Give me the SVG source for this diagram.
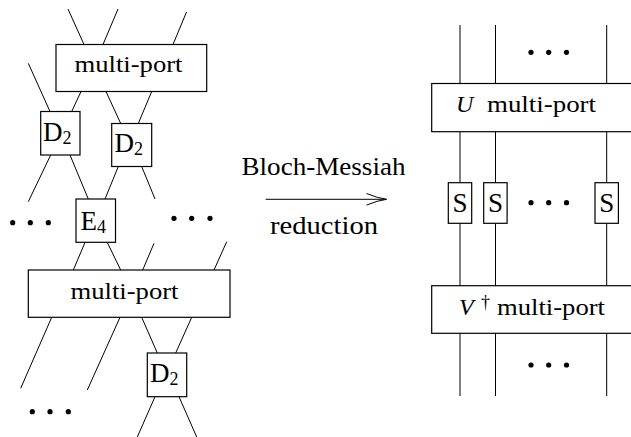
<svg xmlns="http://www.w3.org/2000/svg" width="631" height="437" viewBox="0 0 631 437">
<style>
.box{fill:#fff;stroke:#000;stroke-width:1.2}
.w{stroke:#000;stroke-width:1;fill:none}
text{font-family:'Liberation Serif','DejaVu Serif',serif;fill:#000}
.lab{font-size:24px}
.big{font-size:26px}
.sym{font-size:27px}
.sub{font-size:18px}
.dot{fill:#000}
</style>
<rect width="631" height="437" fill="#fff"/>
<g id="connectors">
  <line class="w" x1="68" y1="9" x2="84" y2="44.5"/>
  <line class="w" x1="118" y1="9" x2="103" y2="44.5"/>
  <line class="w" x1="186.5" y1="12" x2="173" y2="44.5"/>
  <line class="w" x1="28.3" y1="63.3" x2="50" y2="111.5"/>
  <line class="w" x1="81" y1="91.5" x2="71.7" y2="111.5"/>
  <line class="w" x1="106" y1="91.5" x2="120.7" y2="123.5"/>
  <line class="w" x1="151.7" y1="91.5" x2="138.3" y2="123.5"/>
  <line class="w" x1="50.7" y1="155" x2="28.3" y2="201.7"/>
  <line class="w" x1="70" y1="155" x2="88.3" y2="199"/>
  <line class="w" x1="118.3" y1="166.5" x2="105" y2="199"/>
  <line class="w" x1="141.7" y1="166.5" x2="155" y2="199"/>
  <line class="w" x1="85" y1="242.5" x2="73.3" y2="270"/>
  <line class="w" x1="107.3" y1="242.5" x2="120.7" y2="270"/>
  <line class="w" x1="154" y1="243.3" x2="142.7" y2="270"/>
  <line class="w" x1="226.7" y1="241.7" x2="214" y2="270"/>
  <line class="w" x1="51.7" y1="317.3" x2="20.7" y2="388.3"/>
  <line class="w" x1="120" y1="317.3" x2="87.3" y2="390"/>
  <line class="w" x1="141.7" y1="317.3" x2="157.3" y2="353"/>
  <line class="w" x1="191.7" y1="317.3" x2="175.7" y2="353"/>
  <line class="w" x1="155" y1="396.7" x2="137.3" y2="437"/>
  <line class="w" x1="179" y1="396.7" x2="196.7" y2="437"/>
  <line class="w" x1="460" y1="25" x2="460" y2="83.5"/>
  <line class="w" x1="495.5" y1="25" x2="495.5" y2="83.5"/>
  <line class="w" x1="606.7" y1="25" x2="606.7" y2="83.5"/>
  <line class="w" x1="460" y1="131.7" x2="460" y2="182.7"/>
  <line class="w" x1="495.5" y1="131.7" x2="495.5" y2="182.7"/>
  <line class="w" x1="606.7" y1="131.7" x2="606.7" y2="182.7"/>
  <line class="w" x1="460" y1="223.3" x2="460" y2="285.7"/>
  <line class="w" x1="495.5" y1="223.3" x2="495.5" y2="285.7"/>
  <line class="w" x1="606.7" y1="223.3" x2="606.7" y2="285.7"/>
  <line class="w" x1="460" y1="333.3" x2="460" y2="396"/>
  <line class="w" x1="495.5" y1="333.3" x2="495.5" y2="396"/>
  <line class="w" x1="606.7" y1="333.3" x2="606.7" y2="396"/>
  <line class="w" x1="265.7" y1="199.3" x2="386" y2="199.3"/>
  <path class="w" d="M366.5,193.5 Q378,198.3 386.7,199.3 Q378,200.3 366.5,205.1"/>
</g>
<g font-family="Liberation Serif, DejaVu Serif, serif">
<g id="node-multiport-top">
  <rect class="box" x="56" y="44.5" width="150.7" height="47"/>
  <text class="lab" x="128.5" y="72" text-anchor="middle" textLength="108" lengthAdjust="spacingAndGlyphs">multi-port</text>
</g>
<g id="node-D2-left">
  <rect class="box" x="40.7" y="111.5" width="39.3" height="43.5"/>
  <text y="141"><tspan class="sym" x="43">D</tspan><tspan class="sub" dy="3">2</tspan></text>
</g>
<g id="node-D2-right">
  <rect class="box" x="111.7" y="123.5" width="40" height="43"/>
  <text y="152"><tspan class="sym" x="114.5">D</tspan><tspan class="sub" dy="3">2</tspan></text>
</g>
<g id="node-E4">
  <rect class="box" x="76" y="199" width="39.5" height="43.3"/>
  <text y="230"><tspan class="sym" x="80.5">E</tspan><tspan class="sub" dy="3">4</tspan></text>
</g>
<g id="node-multiport-bottom">
  <rect class="box" x="28.3" y="270" width="201.7" height="47.3"/>
  <text class="lab" x="124.5" y="298.5" text-anchor="middle" textLength="108" lengthAdjust="spacingAndGlyphs">multi-port</text>
</g>
<g id="node-D2-bottom">
  <rect class="box" x="147.3" y="353" width="39.4" height="43.7"/>
  <text y="382"><tspan class="sym" x="150">D</tspan><tspan class="sub" dy="3">2</tspan></text>
</g>
<g id="node-U">
  <rect class="box" x="431.7" y="83.5" width="220" height="48.2"/>
  <text class="lab" y="111.5"><tspan x="456" font-style="italic">U</tspan><tspan x="487" textLength="109" lengthAdjust="spacingAndGlyphs">multi-port</tspan></text>
</g>
<g id="node-S1">
  <rect class="box" x="448.3" y="182.7" width="23.4" height="40.6"/>
  <text class="sym" x="460" y="212" text-anchor="middle">S</text>
</g>
<g id="node-S2">
  <rect class="box" x="483.7" y="182.7" width="23.4" height="40.6"/>
  <text class="sym" x="495.5" y="212" text-anchor="middle">S</text>
</g>
<g id="node-S3">
  <rect class="box" x="595" y="182.7" width="23.4" height="40.6"/>
  <text class="sym" x="606.7" y="212" text-anchor="middle">S</text>
</g>
<g id="node-V">
  <rect class="box" x="431.7" y="285.7" width="220" height="47.6"/>
  <text class="lab" y="315"><tspan x="459" font-style="italic">V</tspan><tspan class="sub" x="481" dy="-7">†</tspan><tspan x="497" dy="7" textLength="108" lengthAdjust="spacingAndGlyphs">multi-port</tspan></text>
</g>
<g id="arrow-labels">
  <text class="big" x="323.5" y="175" text-anchor="middle" textLength="164" lengthAdjust="spacingAndGlyphs">Bloch-Messiah</text>
  <text class="big" x="324" y="234" text-anchor="middle" textLength="108" lengthAdjust="spacingAndGlyphs">reduction</text>
</g>
</g>
<g id="dots">
  <circle class="dot" cx="12.7" cy="222.7" r="2.6"/>
  <circle class="dot" cx="30.3" cy="222.7" r="2.6"/>
  <circle class="dot" cx="48.3" cy="222.7" r="2.6"/>
  <circle class="dot" cx="174" cy="218.3" r="2.6"/>
  <circle class="dot" cx="191.7" cy="218.3" r="2.6"/>
  <circle class="dot" cx="210" cy="218.3" r="2.6"/>
  <circle class="dot" cx="32.3" cy="411.7" r="2.6"/>
  <circle class="dot" cx="50" cy="411.7" r="2.6"/>
  <circle class="dot" cx="68.3" cy="411.7" r="2.6"/>
  <circle class="dot" cx="531" cy="52.3" r="2.6"/>
  <circle class="dot" cx="548.7" cy="52.3" r="2.6"/>
  <circle class="dot" cx="566.5" cy="52.3" r="2.6"/>
  <circle class="dot" cx="531" cy="202.7" r="2.6"/>
  <circle class="dot" cx="548.7" cy="202.7" r="2.6"/>
  <circle class="dot" cx="566.5" cy="202.7" r="2.6"/>
  <circle class="dot" cx="531" cy="365" r="2.6"/>
  <circle class="dot" cx="548.7" cy="365" r="2.6"/>
  <circle class="dot" cx="566.5" cy="365" r="2.6"/>
</g>
</svg>
